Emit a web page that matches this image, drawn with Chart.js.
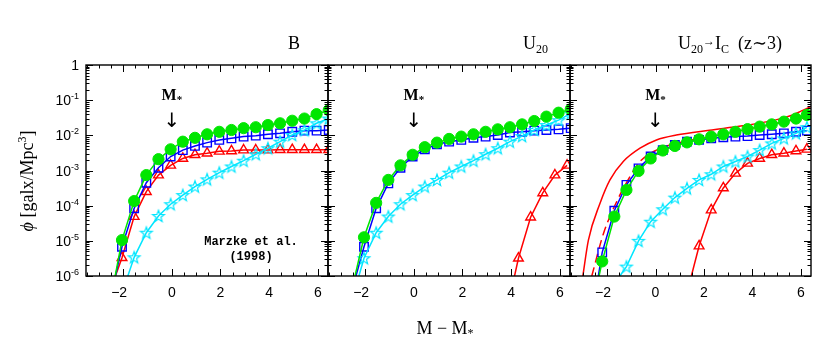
<!DOCTYPE html>
<html lang="en">
<head>
<meta charset="UTF-8">
<title>Luminosity functions</title>
<script src="https://cdn.jsdelivr.net/npm/chart.js@4.4.0/dist/chart.umd.min.js"></script>
<style>
  html, body { margin: 0; padding: 0; background: #fff; }
  #wrap { position: relative; width: 830px; height: 348px; }
  #wrap canvas { position: absolute; left: 0; top: 0; }
</style>
</head>
<body>
<div id="wrap">
  <canvas id="panelB" width="830" height="348"></canvas>
  <canvas id="panelU" width="830" height="348"></canvas>
  <canvas id="panelI" width="830" height="348"></canvas>
</div>
<script>
// M - M* of the binned points
const xGridBU = [-2.05, -1.55, -1.05, -0.55, -0.05, 0.45, 0.95, 1.45, 1.95, 2.45, 2.95, 3.45, 3.95, 4.45, 4.95, 5.45, 5.95, 6.45];
const xGridI = [-2.2, -1.7, -1.2, -0.7, -0.2, 0.3, 0.8, 1.3, 1.8, 2.3, 2.8, 3.3, 3.8, 4.3, 4.8, 5.3, 5.8, 6.25];
const xRedU = [4.3, 4.8, 5.3, 5.8, 6.3];

// B panel (Marzke et al. 1998)
const bGreen = [1.05e-5, 1.35e-4, 7.4e-4, 2.1e-3, 4.0e-3, 6.6e-3, 8.5e-3, 1.07e-2, 1.26e-2, 1.42e-2, 1.6e-2, 1.7e-2, 1.96e-2, 2.2e-2, 2.6e-2, 3.0e-2, 4.0e-2, 5.2e-2];
const bBlue = [6.8e-6, 8.4e-5, 4.5e-4, 1.2e-3, 2.5e-3, 3.8e-3, 5.0e-3, 6.2e-3, 7.4e-3, 8.2e-3, 9.2e-3, 9.8e-3, 1.07e-2, 1.14e-2, 1.26e-2, 1.36e-2, 1.36e-2, 1.42e-2];
const bRed = [3.3e-6, 4.9e-5, 2.5e-4, 7.4e-4, 1.4e-3, 2.2e-3, 2.8e-3, 3.1e-3, 3.5e-3, 3.6e-3, 3.8e-3, 3.8e-3, 3.8e-3, 3.9e-3, 3.9e-3, 3.9e-3, 3.9e-3, 3.9e-3];
const bCyan = [3.4e-6, 1.7e-5, 5.1e-5, 1.1e-4, 2.0e-4, 3.5e-4, 5.6e-4, 8.7e-4, 1.3e-3, 1.9e-3, 2.9e-3, 4.3e-3, 6.6e-3, 1.02e-2, 1.4e-2, 2.2e-2, 3.0e-2];

// U20 panel
const uGreen = [1.26e-5, 1.2e-4, 5.4e-4, 1.4e-3, 2.8e-3, 4.6e-3, 6.2e-3, 7.9e-3, 9.2e-3, 1.07e-2, 1.26e-2, 1.48e-2, 1.7e-2, 2.05e-2, 2.55e-2, 3.4e-2, 4.4e-2, 5.5e-2];
const uBlue = [6.8e-6, 8.4e-5, 4.3e-4, 1.2e-3, 2.5e-3, 4.0e-3, 5.6e-3, 6.6e-3, 7.4e-3, 8.5e-3, 9.2e-3, 1.02e-2, 1.2e-2, 1.26e-2, 1.36e-2, 1.42e-2, 1.48e-2, 1.6e-2];
const uCyan = [3.2e-6, 1.7e-5, 4.9e-5, 1.1e-4, 2.0e-4, 3.5e-4, 5.4e-4, 8.7e-4, 1.3e-3, 1.9e-3, 2.9e-3, 4.3e-3, 6.6e-3, 9.5e-3, 1.42e-2, 1.96e-2, 2.7e-2, 4.2e-2];
const uRed = [3.2e-6, 4.7e-5, 2.3e-4, 7.4e-4, 1.4e-3];

// U20 -> Ic (z~3) panel
const iGreen = [2.6e-6, 4.9e-5, 2.8e-4, 9.7e-4, 2.2e-3, 3.7e-3, 5.0e-3, 6.3e-3, 7.7e-3, 9.2e-3, 1.07e-2, 1.26e-2, 1.5e-2, 1.77e-2, 2.05e-2, 2.45e-2, 3.0e-2, 3.8e-2];
const iBlue = [4.7e-6, 7.2e-5, 3.9e-4, 1.15e-3, 2.5e-3, 3.8e-3, 5.3e-3, 6.6e-3, 7.4e-3, 8.2e-3, 8.8e-3, 9.2e-3, 9.5e-3, 1.02e-2, 1.07e-2, 1.14e-2, 1.26e-2, 1.36e-2];
const iCyan = [1.85e-6, 1.0e-5, 3.5e-5, 7.9e-5, 1.7e-4, 3.1e-4, 5.4e-4, 7.8e-4, 1.3e-3, 1.8e-3, 2.5e-3, 3.8e-3, 5.9e-3, 8.2e-3, 1.14e-2, 1.7e-2];
const iRed = [7.1e-6, 7.5e-5, 3.2e-4, 8.3e-4, 1.6e-3, 2.2e-3, 2.8e-3, 3.1e-3, 3.6e-3, 4.0e-3];

// model curves, third panel
const solidX = [-3.0, -2.77, -2.29, -1.88, -1.33, -0.64, 0.04, 0.86, 2.23, 3.6, 4.97, 5.66, 6.42];
const solidY = [1e-6, 1.05e-5, 1.17e-4, 5.4e-4, 1.8e-3, 4.3e-3, 7.4e-3, 1.02e-2, 1.4e-2, 1.86e-2, 2.75e-2, 3.8e-2, 6.6e-2];
const dashX = [-2.63, -2.15, -1.57, -1.06, -0.64, 0.04, 0.86, 2.23, 3.6, 4.97, 6.42];
const dashY = [1e-6, 1.6e-5, 1.45e-4, 6.6e-4, 1.8e-3, 3.8e-3, 5.9e-3, 9.1e-3, 1.4e-2, 2.2e-2, 3.4e-2];

// where each connecting line leaves the frame at phi = 1e-6
const tailsB = { green: -2.33, blue: -2.32, red: -2.32, cyan: -1.81 };
const tailsU = { green: -2.42, blue: -2.38, red: 4.14, cyan: -2.26 };
const tailsI = { green: -2.33, blue: -2.36, red: 1.48, cyan: -1.47 };

const PHI_MIN = 1e-6, PHI_MAX = 1;
const X_MIN = -3.53, X_MAX = 6.42;

const COL = { green: '#00e600', blue: '#0000ff', red: '#ff0000', cyan: '#00e6ff' };

// open five point star used for the cyan points
function starImage() {
  const c = document.createElement('canvas');
  c.width = 16; c.height = 16;
  const g = c.getContext('2d');
  g.strokeStyle = COL.cyan;
  g.lineWidth = 1.2;
  g.beginPath();
  for (let i = 0; i < 10; i++) {
    const r = i % 2 === 0 ? 6.2 : 2.6;
    const a = -Math.PI / 2 + i * Math.PI / 5;
    const px = 8 + r * Math.cos(a), py = 8.5 + r * Math.sin(a);
    if (i === 0) g.moveTo(px, py); else g.lineTo(px, py);
  }
  g.closePath();
  g.stroke();
  return c;
}
const STAR = starImage();

const MARK = {
  green: { pointStyle: 'circle', pointRadius: 5.6, pointBackgroundColor: COL.green, pointBorderWidth: 1, order: 0 },
  cyan: { pointStyle: STAR, pointRadius: 7, pointBackgroundColor: 'rgba(0,0,0,0)', pointBorderWidth: 1.2, order: 2 },
  blue: { pointStyle: 'rect', pointRadius: 6, pointBackgroundColor: 'rgba(0,0,0,0)', pointBorderWidth: 1.4, order: 4 },
  red: { pointStyle: 'triangle', pointRadius: 5.6, pointBackgroundColor: 'rgba(0,0,0,0)', pointBorderWidth: 1.4, order: 6 }
};

function pts(xs, ys) { return ys.map((y, i) => ({ x: xs[i], y: y })); }

function series(name, xs, ys, tailX) {
  const c = COL[name], m = MARK[name];
  return [
    { data: [{ x: tailX, y: PHI_MIN }].concat(pts(xs, ys)), showLine: true, borderColor: c, borderWidth: 1.5,
      pointRadius: 0, tension: 0, order: m.order + 1 },
    { data: pts(xs, ys), showLine: false, borderColor: c, backgroundColor: m.pointBackgroundColor,
      pointStyle: m.pointStyle, pointRadius: m.pointRadius, pointBorderWidth: m.pointBorderWidth,
      pointBackgroundColor: m.pointBackgroundColor, pointBorderColor: c, order: m.order }
  ];
}

function curve(xs, ys, dash) {
  return { data: pts(xs, ys), showLine: true, borderColor: COL.red, borderWidth: 1.5, borderDash: dash,
    pointRadius: 0, cubicInterpolationMode: 'monotone', order: 8 };
}

function drawRich(ctx, parts, x, y, align) {
  let w = 0;
  parts.forEach(p => { ctx.font = p.font; w += ctx.measureText(p.t).width; });
  let cx = align === 'right' ? x - w : align === 'center' ? x - w / 2 : x;
  parts.forEach(p => {
    ctx.font = p.font;
    ctx.fillText(p.t, cx, y + (p.dy || 0));
    cx += ctx.measureText(p.t).width;
  });
}

const SERIF = '"Liberation Serif", "DejaVu Serif", serif';
const SANS = '"Liberation Sans", "DejaVu Sans", sans-serif';

function framePlugin(opt) {
  return {
    id: 'frame',
    afterDraw(chart) {
      const ctx = chart.ctx, a = chart.chartArea;
      const xs = chart.scales.x, ys = chart.scales.y;
      ctx.save();
      ctx.strokeStyle = '#000';
      ctx.lineWidth = 1;
      ctx.beginPath();
      for (let v = -3.5; v <= X_MAX; v += 0.5) {
        const px = Math.round(xs.getPixelForValue(v)) + 0.5;
        const len = Math.abs(v % 2) < 1e-9 ? 7 : 3.5;
        ctx.moveTo(px, a.bottom); ctx.lineTo(px, a.bottom - len);
        ctx.moveTo(px, a.top); ctx.lineTo(px, a.top + len);
      }
      for (let d = -6; d <= 0; d++) {
        for (let k = 1; k <= 9; k++) {
          const v = k * Math.pow(10, d);
          if (v > PHI_MAX * 1.0001) break;
          const py = Math.round(ys.getPixelForValue(v)) + 0.5;
          const len = k === 1 ? 7 : 3.5;
          ctx.moveTo(a.left, py); ctx.lineTo(a.left + len, py);
          ctx.moveTo(a.right, py); ctx.lineTo(a.right - len, py);
        }
      }
      ctx.stroke();
      ctx.lineWidth = 1.4;
      ctx.strokeRect(a.left, a.top, a.right - a.left, a.bottom - a.top);

      ctx.fillStyle = '#000';
      ctx.textBaseline = 'alphabetic';
      // x tick labels
      ctx.textAlign = 'left';
      [-2, 0, 2, 4, 6].forEach(v => {
        const px = xs.getPixelForValue(v);
        const s = v < 0 ? '\u2212' + Math.abs(v) : String(v);
        ctx.font = '14px ' + SANS;
        const w = ctx.measureText(String(Math.abs(v))).width;
        const wm = v < 0 ? ctx.measureText('\u2212').width : 0;
        ctx.fillText(s, px - w / 2 - wm, 297);
      });

      // M* marker
      const x0 = xs.getPixelForValue(0);
      ctx.textAlign = 'left';
      drawRich(ctx, [
        { t: 'M', font: 'bold 16px ' + SERIF },
        { t: '*', font: 'bold 11px ' + SERIF, dy: 3 }
      ], x0, 100, 'center');
      ctx.textAlign = 'center';
      ctx.font = '20px "DejaVu Sans", sans-serif';
      ctx.fillText('\u2193', x0, 127);

      // panel title
      ctx.textAlign = 'left';
      drawRich(ctx, opt.title, a.right - opt.titleInset, 49, 'right');

      if (opt.extra) opt.extra(ctx, chart);
      ctx.restore();
    }
  };
}

function yLabels(ctx, chart) {
  const ys = chart.scales.y;
  ctx.textAlign = 'left';
  for (let d = -6; d <= 0; d++) {
    const py = ys.getPixelForValue(Math.pow(10, d)) + 5;
    if (d === 0) {
      drawRich(ctx, [{ t: '1', font: '14px ' + SANS }], 79, py, 'right');
    } else {
      drawRich(ctx, [
        { t: '10', font: '14px ' + SANS },
        { t: '-' + Math.abs(d), font: '9px ' + SANS, dy: -6 }
      ], 79, py, 'right');
    }
  }
  // axis title
  ctx.save();
  ctx.translate(33, 181);
  ctx.rotate(-Math.PI / 2);
  drawRich(ctx, [
    { t: '\u03D5', font: 'italic 18px ' + SERIF },
    { t: ' [galx/Mpc', font: '18px ' + SERIF },
    { t: '3', font: '12px ' + SERIF, dy: -7 },
    { t: ']', font: '18px ' + SERIF }
  ], 0, 0, 'center');
  ctx.restore();
  // reference
  ctx.textAlign = 'center';
  ctx.font = 'bold 12px "Liberation Mono", "DejaVu Sans Mono", monospace';
  ctx.fillText('Marzke et al.', 251, 245);
  ctx.fillText('(1998)', 251, 260);
}

function xTitle(ctx) {
  ctx.textAlign = 'left';
  drawRich(ctx, [
    { t: 'M \u2212 M', font: '18px ' + SERIF },
    { t: '*', font: '12px ' + SERIF, dy: 3 }
  ], 445, 334, 'center');
}

function makePanel(id, left, right, datasets, opt) {
  return new Chart(document.getElementById(id), {
    type: 'scatter',
    data: { datasets: datasets },
    options: {
      responsive: false,
      animation: false,
      events: [],
      layout: { padding: { left: left, right: 830 - right, top: 65, bottom: 72 } },
      scales: {
        x: { type: 'linear', min: X_MIN, max: X_MAX, display: false },
        y: { type: 'logarithmic', min: PHI_MIN, max: PHI_MAX, display: false }
      },
      plugins: { legend: { display: false }, tooltip: { enabled: false } }
    },
    plugins: [framePlugin(opt)]
  });
}

const T = '18px ' + SERIF, TS = '12px ' + SERIF;

makePanel('panelB', 86, 328, [].concat(
  series('green', xGridBU, bGreen, tailsB.green),
  series('cyan', xGridBU.slice(1), bCyan, tailsB.cyan),
  series('blue', xGridBU, bBlue, tailsB.blue),
  series('red', xGridBU, bRed, tailsB.red)
), { title: [{ t: 'B', font: T }], titleInset: 28, extra: yLabels });

makePanel('panelU', 328, 570, [].concat(
  series('green', xGridBU, uGreen, tailsU.green),
  series('cyan', xGridBU, uCyan, tailsU.cyan),
  series('blue', xGridBU, uBlue, tailsU.blue),
  series('red', xRedU, uRed, tailsU.red)
), { title: [{ t: 'U', font: T }, { t: '20', font: TS, dy: 4 }], titleInset: 22, extra: xTitle });

makePanel('panelI', 570, 811, [].concat(
  series('green', xGridI, iGreen, tailsI.green),
  series('cyan', xGridI.slice(2), iCyan, tailsI.cyan),
  series('blue', xGridI, iBlue, tailsI.blue),
  series('red', xGridI.slice(8), iRed, tailsI.red),
  [curve(solidX, solidY, []), curve(dashX, dashY, [9, 5])]
), { title: [
  { t: 'U', font: T }, { t: '20', font: TS, dy: 4 },
  { t: '\u2192', font: TS, dy: -4 },
  { t: 'I', font: T }, { t: 'C', font: TS, dy: 4 },
  { t: '  (z\u223C3)', font: T }
], titleInset: 29 });
</script>
</body>
</html>
